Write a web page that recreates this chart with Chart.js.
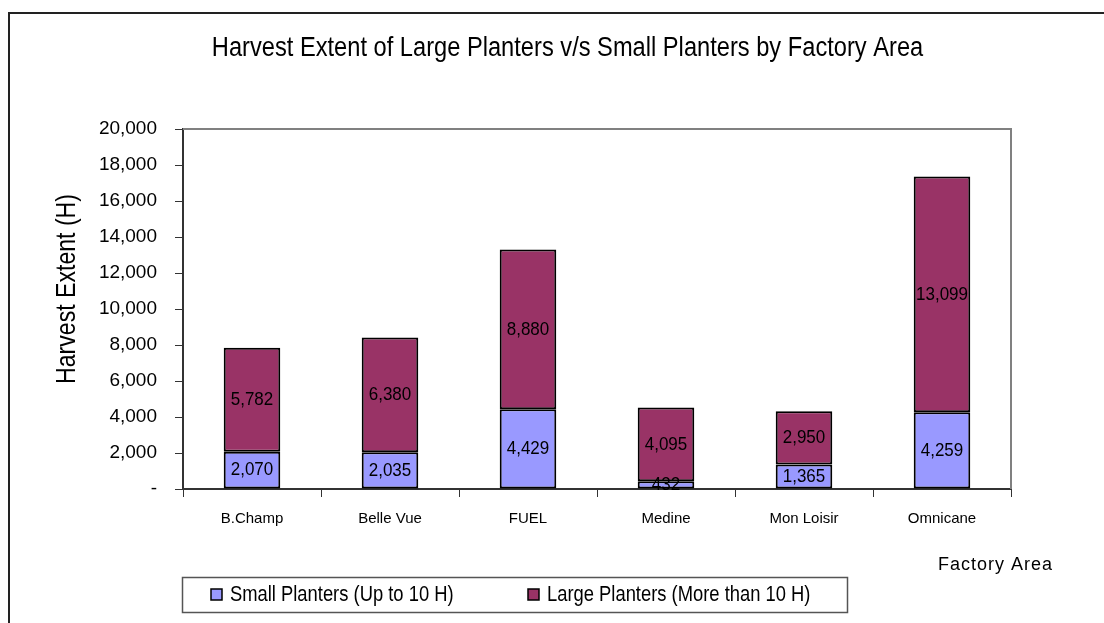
<!DOCTYPE html>
<html>
<head>
<meta charset="utf-8">
<script src="https://cdn.jsdelivr.net/npm/chart.js@4.4.1/dist/chart.umd.min.js"></script>
<style>
  html, body { margin: 0; padding: 0; background: #fff; }
  #wrap { width: 1104px; height: 623px; position: relative; }
</style>
</head>
<body>
<div id="wrap"><canvas id="c" width="1104" height="623"></canvas></div>
<script>
const categories = ['B.Champ', 'Belle Vue', 'FUEL', 'Medine', 'Mon Loisir', 'Omnicane'];
const smallPlanters = [2070, 2035, 4429, 432, 1365, 4259];
const largePlanters = [5782, 6380, 8880, 4095, 2950, 13099];
const seriesNames = ['Small Planters (Up to 10 H)', 'Large Planters (More than 10 H)'];
const chartTitle = 'Harvest Extent of Large Planters v/s Small Planters by Factory Area';
const yAxisTitle = 'Harvest Extent (H)';
const xAxisTitle = 'Factory Area';
const yMin = 0, yMax = 20000, yStep = 2000;

const ARIAL = "'Liberation Sans', Arial, sans-serif";
const SMALL_COLOR = '#9999FF';
const LARGE_COLOR = '#993366';

// draw text horizontally condensed (emulates a narrow face)
function narrowText(ctx, text, x, y, sx, sy) {
  ctx.save();
  ctx.translate(x, y);
  ctx.scale(sx, sy || 1);
  ctx.fillText(text, 0, 0);
  ctx.restore();
}

const decor = {
  id: 'decor',
  afterDraw(chart) {
    const ctx = chart.ctx;
    const ca = chart.chartArea;
    ctx.save();
    // outer border (extends beyond right/bottom)
    ctx.strokeStyle = '#222';
    ctx.lineWidth = 2;
    ctx.beginPath();
    ctx.moveTo(9, 640);
    ctx.lineTo(9, 13);
    ctx.lineTo(1110, 13);
    ctx.stroke();

    // plot area top and right edges
    ctx.strokeStyle = '#808080';
    ctx.lineWidth = 2;
    ctx.beginPath();
    ctx.moveTo(ca.left, ca.top);
    ctx.lineTo(ca.right, ca.top);
    ctx.lineTo(ca.right, ca.bottom);
    ctx.stroke();

    // data labels
    ctx.fillStyle = '#000';
    ctx.font = '17px ' + ARIAL;
    ctx.textAlign = 'center';
    ctx.textBaseline = 'middle';
    chart.data.datasets.forEach((ds, di) => {
      const meta = chart.getDatasetMeta(di);
      meta.data.forEach((bar, i) => {
        const v = ds.data[i];
        const y = (bar.y + bar.base) / 2;
        narrowText(ctx, v.toLocaleString('en-US'), bar.x, y, 1, 1.12);
      });
    });

    // title
    ctx.font = '26px ' + ARIAL;
    ctx.textAlign = 'center';
    narrowText(ctx, chartTitle, 567.5, 48, 0.91, 1.05);

    // y axis title
    ctx.save();
    ctx.translate(67, 289);
    ctx.rotate(-Math.PI / 2);
    ctx.font = '28px ' + ARIAL;
    narrowText(ctx, yAxisTitle, 0, 0, 0.825, 1);
    ctx.restore();

    // x axis title
    ctx.font = '18px ' + ARIAL;
    ctx.textAlign = 'left';
    try { ctx.letterSpacing = '1px'; } catch (e) {}
    ctx.fillText(xAxisTitle, 938, 565);
    try { ctx.letterSpacing = '0px'; } catch (e) {}

    // legend
    ctx.strokeStyle = '#555';
    ctx.lineWidth = 1.5;
    ctx.strokeRect(182.5, 577.5, 665, 35);
    const items = [
      { x: 211, text: seriesNames[0], color: SMALL_COLOR },
      { x: 528, text: seriesNames[1], color: LARGE_COLOR }
    ];
    items.forEach(it => {
      ctx.fillStyle = it.color;
      ctx.fillRect(it.x, 589, 11, 11);
      ctx.strokeStyle = '#000';
      ctx.lineWidth = 1.5;
      ctx.strokeRect(it.x, 589, 11, 11);
      ctx.fillStyle = '#000';
      ctx.font = '22px ' + ARIAL;
      ctx.textAlign = 'left';
      ctx.textBaseline = 'middle';
      narrowText(ctx, it.text, it.x + 19, 595, 0.835, 1);
    });
    ctx.restore();
  }
};

new Chart(document.getElementById('c'), {
  type: 'bar',
  data: {
    labels: categories,
    datasets: [
      {
        label: seriesNames[0],
        data: smallPlanters,
        backgroundColor: SMALL_COLOR,
        borderColor: '#000',
        borderWidth: 2,
        borderSkipped: false
      },
      {
        label: seriesNames[1],
        data: largePlanters,
        backgroundColor: LARGE_COLOR,
        borderColor: '#000',
        borderWidth: 2,
        borderSkipped: false
      }
    ]
  },
  options: {
    responsive: false,
    animation: false,
    devicePixelRatio: 1,
    layout: { padding: { left: 0, top: 129, right: 93, bottom: 0 } },
    plugins: {
      legend: { display: false },
      title: { display: false },
      tooltip: { enabled: false }
    },
    datasets: {
      bar: { categoryPercentage: 1.0, barPercentage: 0.41 }
    },
    scales: {
      x: {
        stacked: true,
        grid: { display: true, drawOnChartArea: false, drawTicks: true, tickLength: 8, color: '#333', offset: true },
        border: { display: true, color: '#333', width: 2 },
        ticks: { color: '#000', font: { family: ARIAL, size: 15 }, padding: 13, maxRotation: 0 },
        afterFit(scale) { scale.height = 134; }
      },
      y: {
        stacked: true,
        min: yMin,
        max: yMax,
        grid: { display: true, drawOnChartArea: false, drawTicks: true, tickLength: 8, color: '#333' },
        border: { display: true, color: '#333', width: 2 },
        ticks: {
          stepSize: yStep,
          color: '#000',
          font: { family: ARIAL, size: 19 },
          padding: 18,
          callback: v => v === 0 ? '-' : v.toLocaleString('en-US')
        },
        afterFit(scale) { scale.width = 183; }
      }
    }
  },
  plugins: [decor]
});
</script>
</body>
</html>
